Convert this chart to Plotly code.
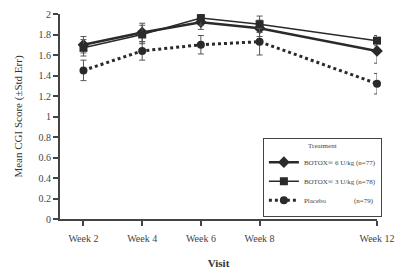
import plotly.graph_objects as go

weeks = [2, 4, 6, 8, 12]
tick_labels = ["Week 2", "Week 4", "Week 6", "Week 8", "Week 12"]

botox6 = [1.70, 1.82, 1.92, 1.86, 1.64]
botox6_err = [0.08, 0.09, 0.07, 0.08, 0.12]
botox3 = [1.67, 1.80, 1.96, 1.90, 1.74]
botox3_err = [0.08, 0.09, 0.07, 0.08, 0.05]
placebo = [1.45, 1.64, 1.70, 1.73, 1.32]
placebo_err = [0.10, 0.09, 0.09, 0.13, 0.10]

nb = "\u00a0"
names = ["BOTOX® 6 U/kg (n=77)", "BOTOX® 3 U/kg (n=78)", "Placebo" + nb * 16 + "(n=79)"]

serif = "Liberation Serif, Times New Roman, serif"
dark = "#2a2a2a"

fig = go.Figure()
fig.add_trace(go.Scatter(
    x=weeks, y=botox6, name=names[0], mode="lines+markers",
    line=dict(color=dark, width=2.5),
    marker=dict(symbol="diamond", size=9, color=dark),
    error_y=dict(type="data", array=botox6_err, color="#555", thickness=1, width=3),
    cliponaxis=False,
))
fig.add_trace(go.Scatter(
    x=weeks, y=botox3, name=names[1], mode="lines+markers",
    line=dict(color=dark, width=1.5),
    marker=dict(symbol="square", size=8, color=dark),
    error_y=dict(type="data", array=botox3_err, color="#555", thickness=1, width=3),
    cliponaxis=False,
))
fig.add_trace(go.Scatter(
    x=weeks, y=placebo, name=names[2], mode="lines+markers",
    line=dict(color=dark, width=3, dash="dot"),
    marker=dict(symbol="circle", size=8, color=dark),
    error_y=dict(type="data", array=placebo_err, color="#555", thickness=1, width=3),
    cliponaxis=False,
))

fig.update_layout(
    width=400, height=272,
    margin=dict(l=60, r=23, t=14, b=53),
    paper_bgcolor="white", plot_bgcolor="white",
    font=dict(family=serif, size=10, color="#333"),
    showlegend=True,
    legend=dict(
        x=0.64, y=0.012, xanchor="left", yanchor="bottom",
        bordercolor="#444", borderwidth=1, bgcolor="white",
        font=dict(family=serif, size=7, color="#444"),
        title=dict(text="Treatment", side="top center", font=dict(family=serif, size=7, color="#444")),
        tracegroupgap=0, itemwidth=30,
    ),
    xaxis=dict(
        range=[1.2, 12], tickmode="array", tickvals=weeks, ticktext=tick_labels,
        showline=True, linecolor="#444", linewidth=2, ticks="outside", ticklen=5,
        tickcolor="#444", tickwidth=2, showgrid=False, zeroline=False,
        ticklabelstandoff=4, automargin=False,
        title=dict(text="<b>Visit</b>", font=dict(family=serif, size=11, color="#333"), standoff=16),
        tickfont=dict(family=serif, size=10, color="#444"),
    ),
    yaxis=dict(
        range=[0, 2.0], tickmode="array", tickvals=[0, 0.2, 0.4, 0.6, 0.8, 1, 1.2, 1.4, 1.6, 1.8, 2],
        ticktext=["0", "0.2", "0.4", "0.6", "0.8", "1", "1.2", "1.4", "1.6", "1.8", "2"],
        showline=True, linecolor="#444", linewidth=2, ticks="outside", ticklen=5,
        tickcolor="#444", tickwidth=2, showgrid=False, zeroline=False,
        automargin=False,
        title=dict(text="Mean CGI Score (±Std Err)", font=dict(family=serif, size=11, color="#333"), standoff=14),
        tickfont=dict(family=serif, size=10, color="#444"),
    ),
)

fig.write_html("out.html")
